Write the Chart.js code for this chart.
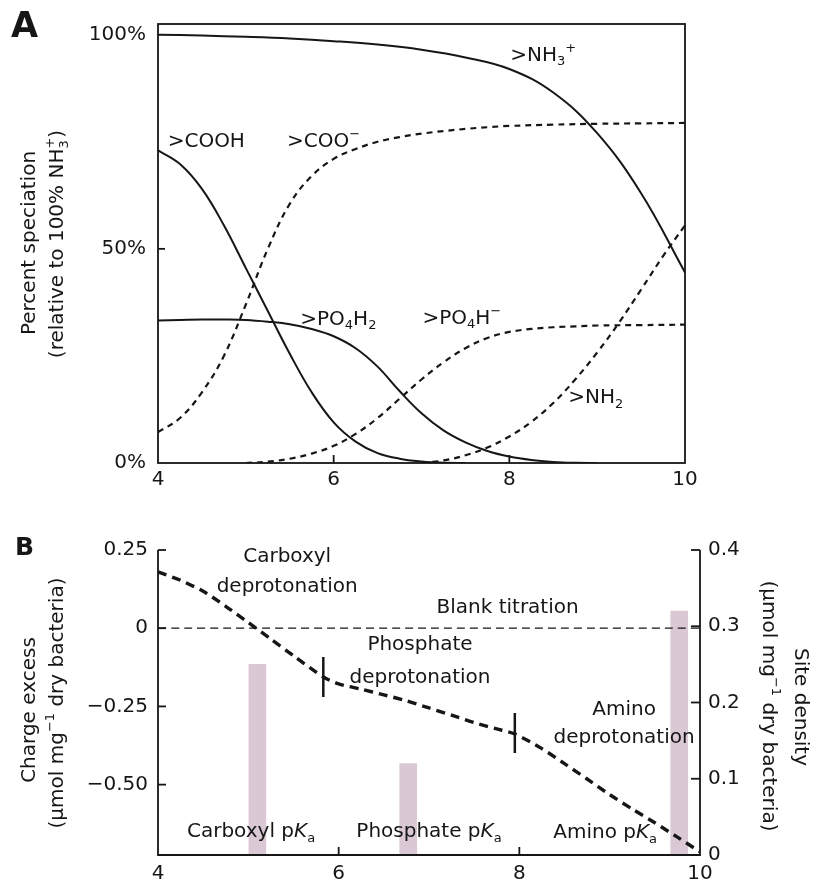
<!DOCTYPE html>
<html>
<head>
<meta charset="utf-8">
<title>Speciation and titration</title>
<script src="https://cdn.jsdelivr.net/npm/chart.js@4.4.1/dist/chart.umd.min.js"></script>
<style>
  html, body { margin: 0; padding: 0; background: #fff; }
  canvas { position: absolute; left: 0; }
  #chartA { top: 0; }
  #chartB { top: 490px; }
</style>
</head>
<body>
<canvas id="chartA" width="817" height="490"></canvas>
<canvas id="chartB" width="817" height="398"></canvas>
<script>
// ---- panel A: speciation (% relative to 100% NH3+) vs pH ----
const pHTicksA = [4, 6, 8, 10];
const pctTicks = [0, 50, 100];

const phNH3 = [4, 4.5, 5, 5.5, 6, 6.5, 7, 7.5, 8, 8.5, 9, 9.5, 10];
const pctNH3 = [100, 99.8, 99.5, 99.1, 98.5, 97.7, 96.5, 94.7, 92, 86.5, 77, 63, 44.5];

const phCOO = [4, 4.25, 4.5, 4.75, 5, 5.25, 5.5, 5.75, 6, 6.25, 6.5, 6.75, 7, 7.25, 7.5, 7.75, 8, 8.5, 9, 9.5, 10];
const pctCOO = [7.2, 10.5, 16.5, 25, 37, 50, 60.5, 67, 71, 73.3, 75, 76.1, 76.9, 77.5, 78, 78.4, 78.7, 79, 79.2, 79.3, 79.4];

const phCOOH = [4, 4.25, 4.5, 4.75, 5, 5.25, 5.5, 5.75, 6, 6.25, 6.5, 6.75, 7, 7.25, 7.5];
const pctCOOH = [73, 69.8, 64, 55.5, 45.5, 35.5, 25.5, 16.5, 9.5, 5, 2.3, 1, 0.35, 0.05, 0];

const phPO4H2 = [4, 4.25, 4.5, 4.75, 5, 5.25, 5.5, 5.75, 6, 6.25, 6.5, 6.75, 7, 7.25, 7.5, 7.75, 8, 8.25, 8.5, 8.75, 9];
const pctPO4H2 = [33.3, 33.4, 33.5, 33.5, 33.4, 33, 32.4, 31.3, 29.6, 26.8, 22.5, 16.8, 11.6, 7.6, 4.8, 2.8, 1.5, 0.7, 0.25, 0.05, 0];

const phPO4H = [5, 5.25, 5.5, 5.75, 6, 6.25, 6.5, 6.75, 7, 7.25, 7.5, 7.75, 8, 8.25, 8.5, 8.75, 9, 9.5, 10];
const pctPO4H = [0, 0.3, 1, 2.2, 4, 6.8, 10.5, 15, 19.5, 23.5, 26.8, 29.2, 30.6, 31.3, 31.7, 31.9, 32.1, 32.2, 32.3];

const phNH2 = [7, 7.25, 7.5, 7.75, 8, 8.25, 8.5, 8.75, 9, 9.25, 9.5, 9.75, 10];
const pctNH2 = [0, 0.6, 1.8, 3.6, 6.2, 9.6, 14, 19.5, 25.8, 32.8, 40.5, 48.3, 55.5];

// ---- panel B: titration vs pH ----
const pHTicksB = [4, 6, 8, 10];
const chargeTicks = [0.25, 0, -0.25, -0.5];
const densityTicks = [0, 0.1, 0.2, 0.3, 0.4];

const phTitration = [4, 4.25, 4.5, 4.75, 5, 5.25, 5.5, 5.83, 6, 6.25, 6.5, 6.75, 7, 7.25, 7.5, 7.75, 7.95, 8.25, 8.5, 8.75, 9, 9.25, 9.5, 9.75, 10];
const chargeTitration = [0.18, 0.153, 0.118, 0.07, 0.018, -0.035, -0.088, -0.156, -0.178, -0.195, -0.213, -0.232, -0.255, -0.278, -0.302, -0.322, -0.338, -0.385, -0.433, -0.482, -0.532, -0.578, -0.622, -0.668, -0.715];

const phBlank = [4, 10];
const chargeBlank = [0, 0];

const phMarks = [5.83, 7.95];
const chargeMarks = [-0.156, -0.335];

const phPKa = [5.1, 6.77, 9.77];
const siteDensity = [0.25, 0.12, 0.32];

const INK = '#161616';
const BAR = '#dac8d4';
const FONT = '"DejaVu Sans", sans-serif';

Chart.defaults.font.family = FONT;
Chart.defaults.color = INK;

const pts = (xs, ys) => xs.map((x, i) => ({ x, y: ys[i] }));

// rich text: parts are [text, kind, stack]; kind is 'sub', 'sup', 'it' or undefined
function drawRich(ctx, parts, x, y, size, align) {
  const items = parts.map(([t, k, stack]) => {
    const s = (k === 'sub' || k === 'sup') ? Math.round(size * 0.66) : size;
    const f = (k === 'it' ? 'italic ' : '') + s + 'px ' + FONT;
    ctx.font = f;
    return { t, k, stack, f, w: ctx.measureText(t).width };
  });
  let total = 0, held = 0;
  items.forEach(p => {
    if (p.stack) held = Math.max(held, p.w);
    else { total += Math.max(p.w, held); held = 0; }
  });
  let cx = align === 'center' ? x - total / 2 : align === 'right' ? x - total : x;
  held = 0;
  ctx.textBaseline = 'middle';
  ctx.textAlign = 'left';
  ctx.fillStyle = INK;
  items.forEach(p => {
    ctx.font = p.f;
    const dy = p.k === 'sub' ? size * 0.32 : p.k === 'sup' ? -size * 0.36 : 0;
    ctx.fillText(p.t, cx, y + dy);
    if (p.stack) held = Math.max(held, p.w);
    else { cx += Math.max(p.w, held); held = 0; }
  });
}

function drawRotated(ctx, parts, cx, cy, angle, size) {
  ctx.save();
  ctx.translate(cx, cy);
  ctx.rotate(angle);
  drawRich(ctx, parts, 0, 0, size, 'center');
  ctx.restore();
}

function seg(ctx, x1, y1, x2, y2) {
  ctx.beginPath(); ctx.moveTo(x1, y1); ctx.lineTo(x2, y2); ctx.stroke();
}

const labelsA = [
  { parts: [['>NH'], ['3', 'sub'], ['+', 'sup']], ph: 8.01, pct: 95.1 },
  { parts: [['>COOH']], ph: 4.11, pct: 75 },
  { parts: [['>COO'], ['−', 'sup']], ph: 5.47, pct: 75 },
  { parts: [['>PO'], ['4', 'sub'], ['H'], ['2', 'sub']], ph: 5.62, pct: 33.5 },
  { parts: [['>PO'], ['4', 'sub'], ['H'], ['−', 'sup']], ph: 7.01, pct: 33.7 },
  { parts: [['>NH'], ['2', 'sub']], ph: 8.67, pct: 15.2 }
];

const panelAPlugin = {
  id: 'panelA',
  afterDraw(chart) {
    const { ctx, chartArea: a } = chart;
    const { x, y } = chart.scales;
    ctx.save();
    ctx.strokeStyle = INK;
    ctx.lineWidth = 1.8;
    ctx.strokeRect(a.left, a.top, a.right - a.left, a.bottom - a.top);
    pHTicksA.slice(1, -1).forEach(v => {
      const px = x.getPixelForValue(v);
      seg(ctx, px, a.bottom, px, a.bottom - 8);
    });
    pctTicks.slice(1, -1).forEach(v => {
      const py = y.getPixelForValue(v);
      seg(ctx, a.left, py, a.left + 7, py);
    });
    labelsA.forEach(l => {
      drawRich(ctx, l.parts, x.getPixelForValue(l.ph), y.getPixelForValue(l.pct), 20, 'left');
    });
    ctx.font = 'bold 35px ' + FONT;
    ctx.fillStyle = INK;
    ctx.textBaseline = 'middle';
    ctx.textAlign = 'left';
    ctx.fillText('A', 11, 28);
    drawRotated(ctx, [['Percent speciation']], 30, 243, -Math.PI / 2, 20);
    drawRotated(ctx, [['(relative to 100% NH'], ['3', 'sub', true], ['+', 'sup'], [')']], 58, 244, -Math.PI / 2, 20);
    ctx.restore();
  }
};

new Chart(document.getElementById('chartA'), {
  type: 'line',
  data: {
    datasets: [
      { data: pts(phNH3, pctNH3) },
      { data: pts(phCOO, pctCOO), borderDash: [6, 5], borderWidth: 2.2 },
      { data: pts(phCOOH, pctCOOH) },
      { data: pts(phPO4H2, pctPO4H2) },
      { data: pts(phPO4H, pctPO4H), borderDash: [6, 5], borderWidth: 2.2 },
      { data: pts(phNH2, pctNH2), borderDash: [6, 5], borderWidth: 2.2 }
    ]
  },
  options: {
    responsive: false,
    animation: false,
    layout: { padding: { left: 0, right: 132, top: 19, bottom: 0 } },
    plugins: { legend: { display: false }, tooltip: { enabled: false } },
    elements: {
      point: { radius: 0 },
      line: { borderColor: INK, borderWidth: 2, tension: 0.4, fill: false }
    },
    scales: {
      x: {
        type: 'linear', min: 4, max: 10, offset: false,
        grid: { display: false, drawTicks: false },
        border: { display: false },
        afterBuildTicks: s => { s.ticks = pHTicksA.map(v => ({ value: v })); },
        afterFit: s => { s.height = 27; },
        ticks: { padding: 5, font: { size: 20 }, color: INK }
      },
      y: {
        type: 'linear', min: 0, max: 102.5,
        grid: { display: false, drawTicks: false },
        border: { display: false },
        afterBuildTicks: s => { s.ticks = pctTicks.map(v => ({ value: v })); },
        afterFit: s => { s.width = 158; },
        ticks: { padding: 12, font: { size: 20 }, color: INK, callback: v => v + '%' }
      }
    }
  },
  plugins: [panelAPlugin]
});

// ---- panel B ----
const pKa = [['p'], ['K', 'it'], ['a', 'sub']];
const unitParts = [['(µmol mg'], ['−1', 'sup'], [' dry bacteria)']];

const labelsB = [
  { parts: [['Carboxyl']], ph: 5.43, q: 0.228 },
  { parts: [['deprotonation']], ph: 5.43, q: 0.132 },
  { parts: [['Blank titration']], ph: 7.87, q: 0.065 },
  { parts: [['Phosphate']], ph: 6.9, q: -0.054 },
  { parts: [['deprotonation']], ph: 6.9, q: -0.159 },
  { parts: [['Amino']], ph: 9.16, q: -0.261 },
  { parts: [['deprotonation']], ph: 9.16, q: -0.351 },
  { parts: [['Carboxyl ']].concat(pKa), ph: 5.03, q: -0.651 },
  { parts: [['Phosphate ']].concat(pKa), ph: 7.0, q: -0.651 },
  { parts: [['Amino ']].concat(pKa), ph: 8.95, q: -0.654 }
];

const panelBPlugin = {
  id: 'panelB',
  afterDraw(chart) {
    const { ctx, chartArea: a } = chart;
    const { x, y, y2 } = chart.scales;
    ctx.save();
    ctx.strokeStyle = INK;
    ctx.lineWidth = 1.8;
    ctx.beginPath();
    ctx.moveTo(a.left, a.top);
    ctx.lineTo(a.left, a.bottom);
    ctx.lineTo(a.right, a.bottom);
    ctx.lineTo(a.right, a.top);
    ctx.stroke();
    pHTicksB.slice(1, -1).forEach(v => {
      const px = x.getPixelForValue(v);
      seg(ctx, px, a.bottom, px, a.bottom - 8);
    });
    chargeTicks.forEach(v => {
      const py = y.getPixelForValue(v);
      seg(ctx, a.left, py, a.left + 8, py);
    });
    densityTicks.slice(1).forEach(v => {
      const py = y2.getPixelForValue(v);
      seg(ctx, a.right, py, a.right - 9, py);
    });
    labelsB.forEach(l => {
      drawRich(ctx, l.parts, x.getPixelForValue(l.ph), y.getPixelForValue(l.q), 20, 'center');
    });
    ctx.font = 'bold 25px ' + FONT;
    ctx.fillStyle = INK;
    ctx.textBaseline = 'middle';
    ctx.textAlign = 'left';
    ctx.fillText('B', 15, 58);
    drawRotated(ctx, [['Charge excess']], 30, 220, -Math.PI / 2, 20);
    drawRotated(ctx, unitParts, 58, 213, -Math.PI / 2, 20);
    drawRotated(ctx, [['Site density']], 800, 217, Math.PI / 2, 20);
    drawRotated(ctx, unitParts, 768, 216, Math.PI / 2, 20);
    ctx.restore();
  }
};

const fmtCharge = v => v === 0 ? '0' : (v < 0 ? '−' : '') + Math.abs(v).toFixed(2);
const fmtDensity = v => v === 0 ? '0' : v.toFixed(1);

new Chart(document.getElementById('chartB'), {
  type: 'line',
  data: {
    datasets: [
      {
        type: 'bar', data: pts(phPKa, siteDensity), yAxisID: 'y2',
        backgroundColor: BAR, borderWidth: 0, barThickness: 17, order: 3
      },
      { data: pts(phBlank, chargeBlank), borderDash: [8, 5], borderWidth: 1.3, order: 2 },
      { data: pts(phTitration, chargeTitration), borderDash: [9, 6], borderWidth: 3.4, tension: 0.25, order: 1 },
      {
        data: pts(phMarks, chargeMarks), showLine: false, order: 0,
        pointStyle: 'line', pointRotation: 90, pointRadius: 20,
        pointBorderWidth: 2.5, pointBorderColor: INK
      }
    ]
  },
  options: {
    responsive: false,
    animation: false,
    layout: { padding: { left: 0, right: 0, top: 60, bottom: 0 } },
    plugins: { legend: { display: false }, tooltip: { enabled: false } },
    elements: {
      point: { radius: 0 },
      line: { borderColor: INK, borderWidth: 2, tension: 0.4, fill: false }
    },
    scales: {
      x: {
        type: 'linear', min: 4, max: 10, offset: false,
        grid: { display: false, drawTicks: false, offset: false },
        border: { display: false },
        afterBuildTicks: s => { s.ticks = pHTicksB.map(v => ({ value: v })); },
        afterFit: s => { s.height = 33; },
        ticks: { padding: 7, font: { size: 20 }, color: INK }
      },
      y: {
        type: 'linear', position: 'left', min: -0.725, max: 0.25,
        grid: { display: false, drawTicks: false },
        border: { display: false },
        afterBuildTicks: s => { s.ticks = chargeTicks.map(v => ({ value: v })); },
        afterFit: s => { s.width = 158; },
        ticks: { padding: 10, font: { size: 20 }, color: INK, callback: fmtCharge }
      },
      y2: {
        type: 'linear', position: 'right', min: 0, max: 0.4,
        grid: { display: false, drawTicks: false },
        border: { display: false },
        afterBuildTicks: s => { s.ticks = densityTicks.map(v => ({ value: v })); },
        afterFit: s => { s.width = 117; },
        ticks: { padding: 8, font: { size: 20 }, color: INK, callback: fmtDensity }
      }
    }
  },
  plugins: [panelBPlugin]
});
</script>
</body>
</html>
